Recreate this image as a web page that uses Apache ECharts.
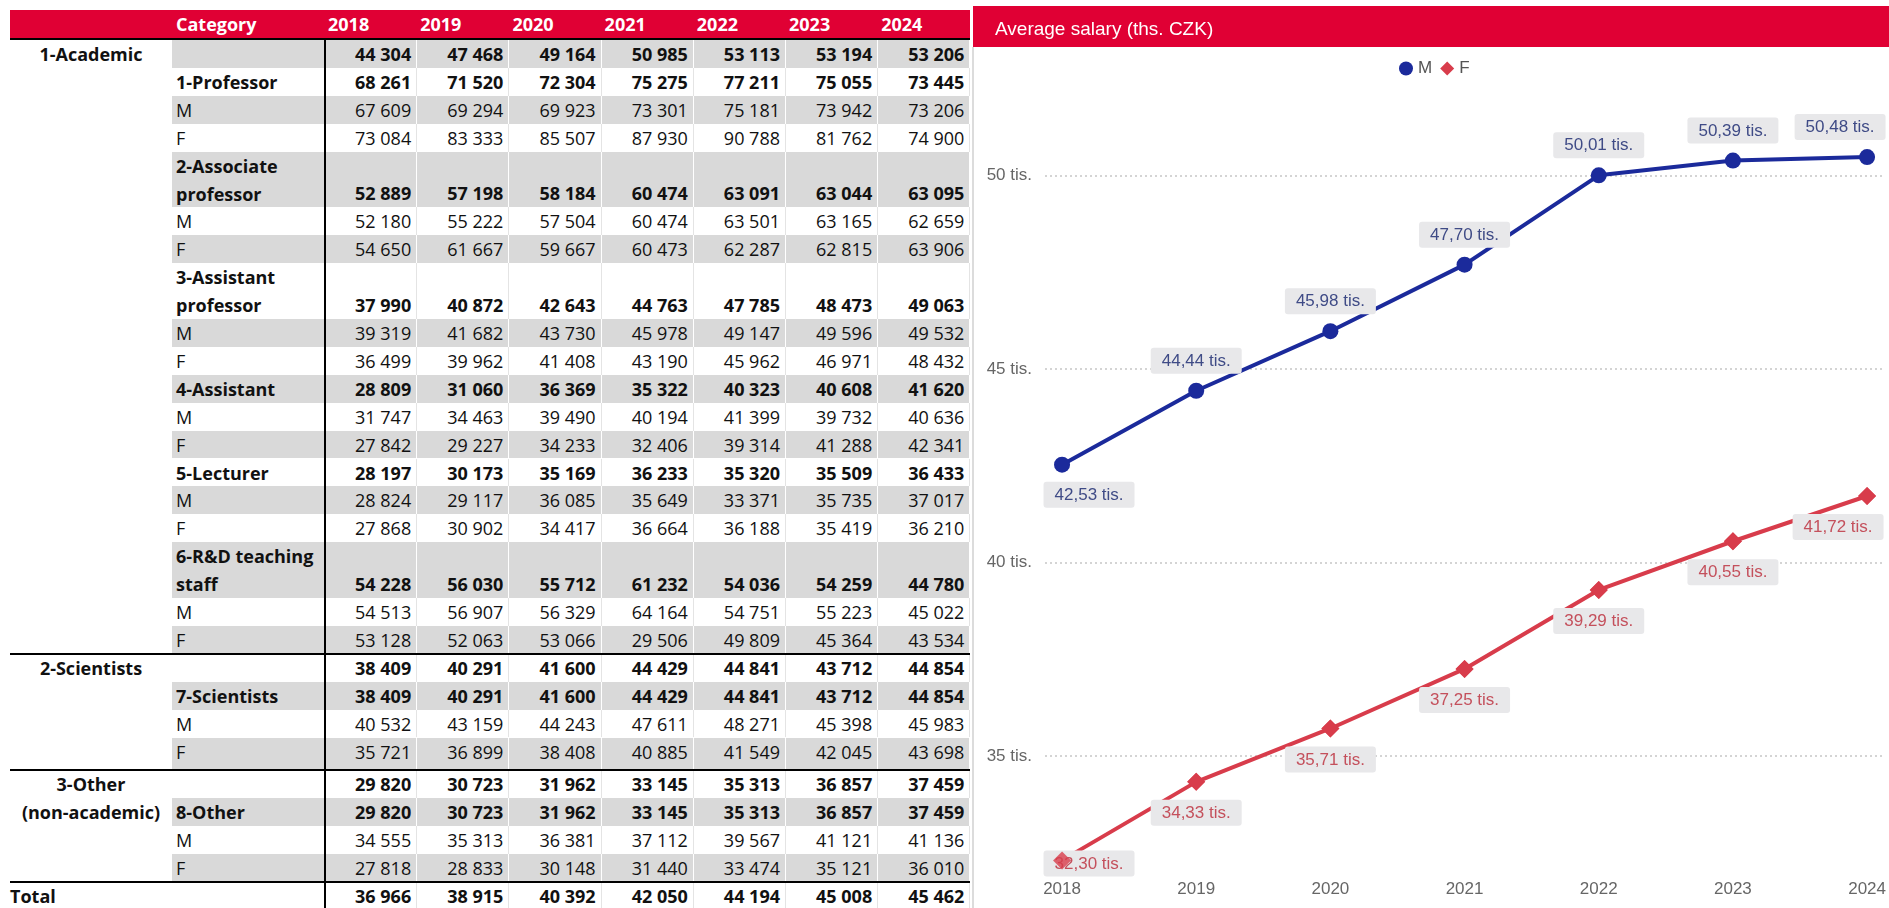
<!DOCTYPE html>
<html lang="en">
<head>
<meta charset="utf-8">
<script type="text/javascript" src="https://cdn.jsdelivr.net/npm/echarts@6/dist/echarts.min.js"></script>
<style>
  body { margin: 0; width: 1889px; height: 908px; overflow: hidden; background: #fff; font-family: 'Open Sans', sans-serif; }
  #tbl { position: absolute; left: 0; top: 0; width: 975px; height: 908px; overflow: hidden; }
  .cell { position: absolute; box-sizing: border-box; white-space: nowrap; font-size: 18px; line-height: 28px; color: #111; }
  .rule { position: absolute; background: #000; }
  #main { position: absolute; left: 973px; top: 0; width: 916px; height: 908px; }
  #edge { position: absolute; left: 972px; top: 47px; width: 2px; height: 861px; background: #dcdcdc; }
</style>
</head>
<body>
<div id="tbl"></div>
<div id="edge"></div>
<div id="main"></div>

<script type="text/javascript">
// table data
var years = ['2018', '2019', '2020', '2021', '2022', '2023', '2024'];

var academic    = [44304, 47468, 49164, 50985, 53113, 53194, 53206];
var professor   = [68261, 71520, 72304, 75275, 77211, 75055, 73445];
var professorM  = [67609, 69294, 69923, 73301, 75181, 73942, 73206];
var professorF  = [73084, 83333, 85507, 87930, 90788, 81762, 74900];
var assocProf   = [52889, 57198, 58184, 60474, 63091, 63044, 63095];
var assocProfM  = [52180, 55222, 57504, 60474, 63501, 63165, 62659];
var assocProfF  = [54650, 61667, 59667, 60473, 62287, 62815, 63906];
var asstProf    = [37990, 40872, 42643, 44763, 47785, 48473, 49063];
var asstProfM   = [39319, 41682, 43730, 45978, 49147, 49596, 49532];
var asstProfF   = [36499, 39962, 41408, 43190, 45962, 46971, 48432];
var assistant   = [28809, 31060, 36369, 35322, 40323, 40608, 41620];
var assistantM  = [31747, 34463, 39490, 40194, 41399, 39732, 40636];
var assistantF  = [27842, 29227, 34233, 32406, 39314, 41288, 42341];
var lecturer    = [28197, 30173, 35169, 36233, 35320, 35509, 36433];
var lecturerM   = [28824, 29117, 36085, 35649, 33371, 35735, 37017];
var lecturerF   = [27868, 30902, 34417, 36664, 36188, 35419, 36210];
var rdStaff     = [54228, 56030, 55712, 61232, 54036, 54259, 44780];
var rdStaffM    = [54513, 56907, 56329, 64164, 54751, 55223, 45022];
var rdStaffF    = [53128, 52063, 53066, 29506, 49809, 45364, 43534];
var sciAll      = [38409, 40291, 41600, 44429, 44841, 43712, 44854];
var scientists  = [38409, 40291, 41600, 44429, 44841, 43712, 44854];
var scientistsM = [40532, 43159, 44243, 47611, 48271, 45398, 45983];
var scientistsF = [35721, 36899, 38408, 40885, 41549, 42045, 43698];
var otherAll    = [29820, 30723, 31962, 33145, 35313, 36857, 37459];
var other       = [29820, 30723, 31962, 33145, 35313, 36857, 37459];
var otherM      = [34555, 35313, 36381, 37112, 39567, 41121, 41136];
var otherF      = [27818, 28833, 30148, 31440, 33474, 35121, 36010];
var total       = [36966, 38915, 40392, 42050, 44194, 45008, 45462];

// chart data
var chartYears = [2018, 2019, 2020, 2021, 2022, 2023, 2024];
var salaryM = [42.53, 44.44, 45.98, 47.70, 50.01, 50.39, 50.48];
var salaryF = [32.30, 34.33, 35.71, 37.25, 39.29, 40.55, 41.72];

// g = group label, c = category lines, b = bold, line = black rule above
var rows = [
  {g: ['1-Academic'], c: [], v: academic, b: 1},
  {c: ['1-Professor'], v: professor, b: 1},
  {c: ['M'], v: professorM},
  {c: ['F'], v: professorF},
  {c: ['2-Associate', 'professor'], v: assocProf, b: 1},
  {c: ['M'], v: assocProfM},
  {c: ['F'], v: assocProfF},
  {c: ['3-Assistant', 'professor'], v: asstProf, b: 1},
  {c: ['M'], v: asstProfM},
  {c: ['F'], v: asstProfF},
  {c: ['4-Assistant'], v: assistant, b: 1},
  {c: ['M'], v: assistantM},
  {c: ['F'], v: assistantF},
  {c: ['5-Lecturer'], v: lecturer, b: 1},
  {c: ['M'], v: lecturerM},
  {c: ['F'], v: lecturerF},
  {c: ['6-R&D teaching', 'staff'], v: rdStaff, b: 1},
  {c: ['M'], v: rdStaffM},
  {c: ['F'], v: rdStaffF},
  {g: ['2-Scientists'], c: [], v: sciAll, b: 1, line: 1},
  {c: ['7-Scientists'], v: scientists, b: 1},
  {c: ['M'], v: scientistsM},
  {c: ['F'], v: scientistsF, extra: 5},
  {g: ['3-Other', '(non-academic)'], c: [], v: otherAll, b: 1, line: 1},
  {c: ['8-Other'], v: other, b: 1},
  {c: ['M'], v: otherM},
  {c: ['F'], v: otherF},
  {g: ['Total'], c: [], v: total, b: 1, line: 1, left: 1}
];

function fmt(n) {
    return String(n).replace(/\B(?=(\d{3})+(?!\d))/g, ' ');
}

// build the table
var tbl = document.getElementById('tbl');
var X0 = 10, X1 = 172, X2 = 325, COLW = 92.2, HEADTOP = 10, HEADH = 29, BODYTOP = 40, ROWH = 27.9;
var RED = '#e00034';

function addDiv(cls, css, text) {
    var d = document.createElement('div');
    d.className = cls;
    d.style.cssText = css;
    if (text != null) d.textContent = text;
    tbl.appendChild(d);
    return d;
}

addDiv('cell', 'left:' + X0 + 'px;top:' + HEADTOP + 'px;width:' + (X2 + 7 * COLW - X0) + 'px;height:' + HEADH + 'px;background:' + RED + ';');
addDiv('cell', 'left:' + (X1 + 4) + 'px;top:' + HEADTOP + 'px;height:' + HEADH + 'px;line-height:' + HEADH + 'px;color:#fff;font-weight:bold;', 'Category');
for (var j = 0; j < years.length; j++) {
    addDiv('cell', 'left:' + (X2 + j * COLW + 3) + 'px;top:' + HEADTOP + 'px;height:' + HEADH + 'px;line-height:' + HEADH + 'px;color:#fff;font-weight:bold;', years[j]);
}

var y = BODYTOP;
for (var i = 0; i < rows.length; i++) {
    var r = rows[i];
    var span = r.c.length > 1 ? 2 : 1;
    var h = span * ROWH + (r.extra || 0);
    var gray = (i % 2 === 0);
    var bg = gray ? '#d9d9d9' : '#fff';
    var sep = gray ? '#fff' : '#e4e4e4';
    var fw = r.b ? 'bold' : 'normal';

    addDiv('cell', 'left:' + X1 + 'px;top:' + y + 'px;width:' + (X2 - X1) + 'px;height:' + h + 'px;background:' + bg + ';padding-left:4px;font-weight:' + fw + ';').innerHTML =
        r.c.map(function (t) { return t.replace(/&/g, '&amp;'); }).join('<br>');

    for (var j = 0; j < r.v.length; j++) {
        addDiv('cell', 'left:' + (X2 + j * COLW) + 'px;top:' + y + 'px;width:' + COLW + 'px;height:' + h + 'px;background:' + bg +
            ';border-right:1px solid ' + sep + ';text-align:right;padding-right:5px;padding-top:' + ((span - 1) * ROWH) + 'px;font-weight:' + fw + ';', fmt(r.v[j]));
    }

    if (r.g) {
        var gcss = 'top:' + y + 'px;height:' + (r.g.length * ROWH) + 'px;font-weight:bold;';
        if (r.left) gcss += 'left:' + X0 + 'px;';
        else gcss += 'left:' + X0 + 'px;width:' + (X1 - X0) + 'px;text-align:center;';
        addDiv('cell', gcss).innerHTML = r.g.join('<br>');
    }
    if (r.line) {
        addDiv('rule', 'left:' + X0 + 'px;top:' + (y - 1) + 'px;width:' + (X2 + 7 * COLW - X0) + 'px;height:2px;');
    }
    y += h;
}
// rule under the header and the one after Category
addDiv('rule', 'left:' + X0 + 'px;top:' + (BODYTOP - 2) + 'px;width:' + (X2 + 7 * COLW - X0) + 'px;height:2px;');
addDiv('rule', 'left:' + (X2 - 1) + 'px;top:' + (BODYTOP - 2) + 'px;width:2px;height:' + (908 - BODYTOP + 2) + 'px;');

// chart
var myChart = echarts.init(document.getElementById('main'));

function lbl(v) {
    return v.toFixed(2).replace('.', ',') + ' tis.';
}

// label placement tweaks per point (first/last labels get pushed inside)
var dataM = salaryM.map(function (v, i) {
    var d = {value: [chartYears[i], v]};
    if (i === 0) d.label = {position: 'bottom', offset: [27, 0]};
    if (i === salaryM.length - 1) d.label = {offset: [-27, 0]};
    return d;
});
var dataF = salaryF.map(function (v, i) {
    var d = {value: [chartYears[i], v]};
    if (i === 0) d.label = {offset: [27, -28]};
    if (i === salaryF.length - 1) d.label = {offset: [-29, 0]};
    return d;
});

var labelBase = {
    show: true,
    fontSize: 17,
    backgroundColor: '#e8e8ea',
    padding: [5, 11, 4, 11],
    borderRadius: 3,
    formatter: function (p) { return lbl(p.value[1]); }
};

option = {
    animation: false,
    textStyle: {fontFamily: 'Liberation Sans'},
    graphic: [{
        type: 'rect', left: 0, top: 6, z: -1,
        shape: {width: 916, height: 41},
        style: {fill: RED}
    }],
    title: {
        text: 'Average salary (ths. CZK)',
        left: 17, top: 15,
        textStyle: {color: '#fff', fontSize: 19, fontWeight: 'normal', fontFamily: 'Liberation Sans'}
    },
    legend: {
        top: 55, left: 421,
        itemWidth: 14, itemHeight: 14, itemGap: 8,
        textStyle: {fontSize: 17, color: '#555'},
        data: [{name: 'M', icon: 'circle'}, {name: 'F', icon: 'diamond'}]
    },
    grid: {left: 72, right: 4, top: 137, bottom: 36},
    xAxis: {
        type: 'value',
        min: 2017.873, max: 2024.13,
        minInterval: 1, maxInterval: 1,
        axisLine: {show: false},
        axisTick: {show: false},
        splitLine: {show: false},
        axisLabel: {
            showMinLabel: false, showMaxLabel: false,
            fontSize: 17, color: '#666', margin: 9,
            formatter: function (v) { return v % 1 === 0 ? String(v) : ''; }
        }
    },
    yAxis: {
        type: 'value',
        min: 32, max: 51,
        splitNumber: 4, minInterval: 5, maxInterval: 5,
        axisLine: {show: false},
        axisTick: {show: false},
        splitLine: {
            showMinLine: false, showMaxLine: false,
            lineStyle: {type: [2, 3], color: '#c6c6c6', width: 1.5}
        },
        axisLabel: {
            showMinLabel: false, showMaxLabel: false,
            fontSize: 17, color: '#666', margin: 13,
            formatter: function (v) { return v % 5 === 0 ? v + ' tis.' : ''; }
        }
    },
    series: [
        {
            name: 'M', type: 'line',
            data: dataM,
            symbol: 'circle', symbolSize: 16,
            color: '#1b2a9b',
            lineStyle: {width: 4},
            label: echarts.util.extend({position: 'top', distance: 9, color: '#3f4b86'}, labelBase)
        },
        {
            name: 'F', type: 'line',
            data: dataF,
            symbol: 'diamond', symbolSize: 18,
            color: '#d83c4b',
            lineStyle: {width: 4},
            label: echarts.util.extend({position: 'bottom', distance: 9, color: '#c4505c'}, labelBase)
        },
        { // F markers drawn again on top so the first one sits over its label
            name: 'F markers', type: 'scatter',
            data: salaryF.map(function (v, i) { return [chartYears[i], v]; }),
            symbol: 'diamond', symbolSize: 18,
            color: '#d83c4b',
            silent: true, z: 5
        }
    ]
};

myChart.setOption(option);
</script>
</body>
</html>
